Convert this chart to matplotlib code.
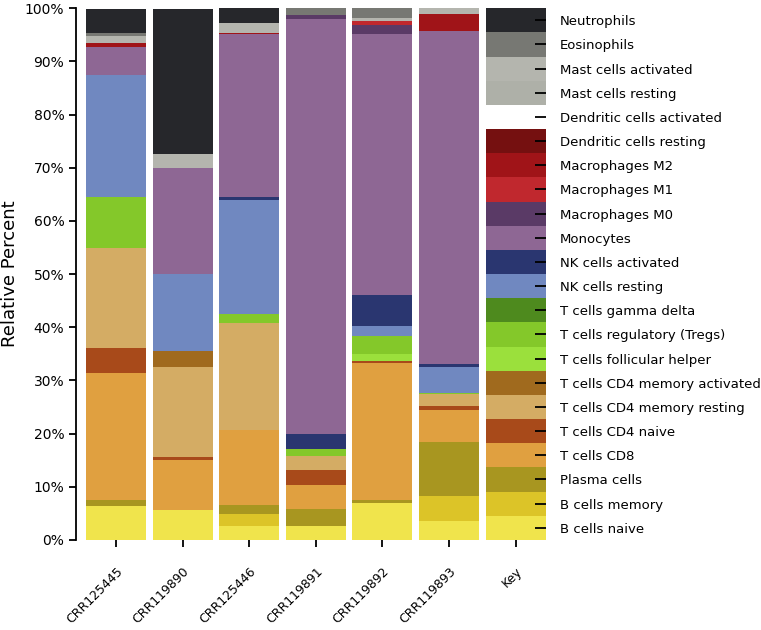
import numpy as np
import matplotlib
matplotlib.use("Agg")
from matplotlib import pyplot as plt

# samples (x axis), last column is the colour key
samples = ['CRR125445', 'CRR119890', 'CRR125446', 'CRR119891', 'CRR119892', 'CRR119893', 'Key']

# cell types, bottom of stack first
cell_types = ['B cells naive', 'B cells memory', 'Plasma cells', 'T cells CD8', 'T cells CD4 naive',
              'T cells CD4 memory resting', 'T cells CD4 memory activated', 'T cells follicular helper',
              'T cells regulatory (Tregs)', 'T cells gamma delta', 'NK cells resting', 'NK cells activated',
              'Monocytes', 'Macrophages M0', 'Macrophages M1', 'Macrophages M2', 'Dendritic cells resting',
              'Dendritic cells activated', 'Mast cells resting', 'Mast cells activated', 'Eosinophils',
              'Neutrophils']

colors = ['#f0e44c', '#dcc428', '#a89620', '#e0a040', '#a84a1a',
          '#d4ac64', '#a06a1e', '#9be03c',
          '#84c82a', '#4e8a1e', '#7088c0', '#2a3670',
          '#8e6794', '#5a3a66', '#c0282e', '#a01418', '#751010',
          '#ffffff', '#aeb0a8', '#b4b5ae', '#777873',
          '#26272b']

# percent per cell type, same order as cell_types
CRR125445 = [6.4, 0, 1.1, 23.9, 4.7, 18.8, 0, 0, 9.6, 0, 22.9, 0,
             5.3, 0, 0, 0.8, 0, 0, 0, 1.3, 0.5, 4.5]
CRR119890 = [5.6, 0, 0, 9.5, 0.4, 17.1, 3.0, 0, 0, 0, 14.5, 0,
             19.8, 0, 0, 0, 0, 0, 0, 2.6, 0, 27.4]
CRR125446 = [2.6, 2.2, 1.8, 14.0, 0, 20.2, 0, 0, 1.7, 0, 21.4, 0.6,
             30.6, 0, 0, 0.2, 0, 0, 0, 2.0, 0, 2.8]
CRR119891 = [2.7, 0, 3.1, 4.5, 2.8, 2.7, 0, 0, 1.3, 0, 0, 2.8,
             78.0, 0.8, 0, 0, 0, 0, 0, 0, 1.3, 0]
CRR119892 = [6.9, 0, 0.6, 25.8, 0.3, 0, 0, 1.4, 3.4, 0, 1.8, 5.9,
             49.0, 1.7, 0.8, 0, 0, 0, 0, 0.5, 1.9, 0]
CRR119893 = [3.6, 4.7, 10.1, 6.0, 0.8, 2.2, 0, 0, 0.2, 0, 5.0, 0.4,
             62.8, 0, 0, 3.2, 0, 0, 0, 1.0, 0, 0]
key = [100 / 22] * 22

data = np.array([CRR125445, CRR119890, CRR125446, CRR119891, CRR119892, CRR119893, key])

fig = plt.figure(figsize=(7.61, 6.3), dpi=100)
ax = fig.add_axes([0.1, 0.143, 0.617, 0.844])

x = np.arange(len(samples))
bottom = np.zeros(len(samples))
for i, name in enumerate(cell_types):
    ax.bar(x, data[:, i], bottom=bottom, width=0.9, color=colors[i], edgecolor='none')
    bottom += data[:, i]

ax.set_xlim(-0.6, 6.45)
ax.set_ylim(0, 100)
ax.set_yticks(np.arange(0, 101, 10))
ax.set_yticklabels(['%d%%' % v for v in range(0, 101, 10)], fontsize=10)
ax.set_xticks(x)
ax.set_xticklabels(samples, rotation=45, ha='right', rotation_mode='anchor', fontsize=9)
ax.set_ylabel('Relative Percent', fontsize=13)
for s in ['top', 'right', 'bottom']:
    ax.spines[s].set_visible(False)
ax.spines['left'].set_linewidth(1.3)
ax.tick_params(axis='y', length=5, width=1.3)
ax.tick_params(axis='x', length=5, width=1.3, pad=13)

# labels for the key column
ax2 = ax.twinx()
ax2.set_ylim(0, 100)
centers = np.cumsum(key) - np.array(key) / 2
ax2.set_yticks(centers)
ax2.set_yticklabels(cell_types, fontsize=9.5)
ax2.tick_params(axis='y', direction='in', length=8, width=1.3, pad=10)
for s in ax2.spines.values():
    s.set_visible(False)

fig.savefig('out.png', dpi=100)
